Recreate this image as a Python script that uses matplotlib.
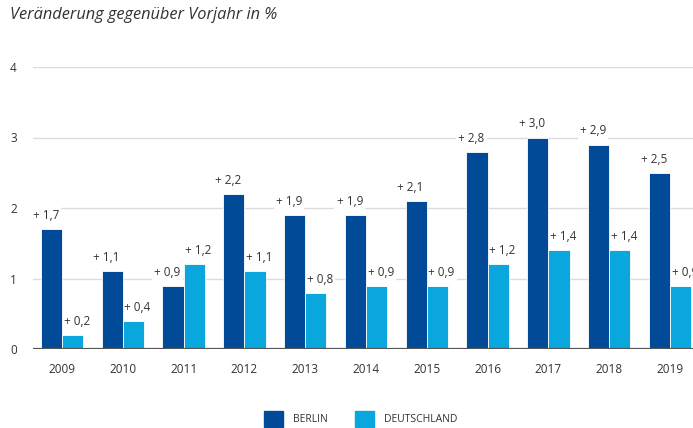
import matplotlib.pyplot as plt
import numpy as np

jahre = ['2009', '2010', '2011', '2012', '2013', '2014', '2015', '2016', '2017', '2018', '2019']
berlin = [1.7, 1.1, 0.9, 2.2, 1.9, 1.9, 2.1, 2.8, 3.0, 2.9, 2.5]
deutschland = [0.2, 0.4, 1.2, 1.1, 0.8, 0.9, 0.9, 1.2, 1.4, 1.4, 0.9]

farbe_berlin = '#004a98'
farbe_de = '#0aa6de'
textfarbe = '#333333'

plt.rcParams['font.family'] = ['Open Sans', 'DejaVu Sans']

fig = plt.figure(figsize=(6.93, 4.28), dpi=100)
ax = fig.add_axes([33 / 693, 1 - 349 / 428, 660 / 693, (349 - 67) / 428])

x = np.arange(len(jahre))
b = 0.35
ax.bar(x - b / 2, berlin, b, color=farbe_berlin, edgecolor='white', linewidth=0.6, zorder=3)
ax.bar(x + b / 2, deutschland, b, color=farbe_de, edgecolor='white', linewidth=0.6, zorder=3)

# Beschriftung ueber den Balken (weisser Hintergrund nur ueber den Gitterlinien)
def wert(v):
    return '+ ' + ('%.1f' % v).replace('.', ',')

for i in range(len(jahre)):
    for dx, v, versatz in ((-b / 2, berlin[i], -4), (b / 2, deutschland[i], 3)):
        ax.annotate(wert(v), (x[i] + dx, v + 0.1), xytext=(versatz, 0), textcoords='offset points',
                    ha='center', va='bottom', fontsize=8.5, color=textfarbe, zorder=2,
                    annotation_clip=False,
                    bbox=dict(facecolor='white', edgecolor='none', pad=1.5))

ax.set_xlim((33 - 62) / 60.8, (693 - 62) / 60.8)
ax.set_ylim(0, 4)
ax.set_yticks([0, 1, 2, 3, 4])
ax.set_xticks(x)
ax.set_xticklabels(jahre)
ax.grid(axis='y', color='#dcdcdc', linewidth=1, zorder=0)
for s in ax.spines.values():
    s.set_visible(False)
ax.axhline(0, color='#555555', linewidth=1.6, zorder=5)
ax.tick_params(axis='both', length=0, labelsize=8.5, labelcolor=textfarbe)
ax.tick_params(axis='x', pad=10)
ax.tick_params(axis='y', pad=14)
for t in ax.get_yticklabels():
    t.set_horizontalalignment('center')

fig.text(10 / 693, 1 - 15 / 428, 'Veränderung gegenüber Vorjahr in %', fontsize=11.8,
         style='italic', color=textfarbe, va='center')

# Legende
handles = [plt.Rectangle((0, 0), 1, 1, color=farbe_berlin),
           plt.Rectangle((0, 0), 1, 1, color=farbe_de)]
fig.legend(handles, ['BERLIN', 'DEUTSCHLAND'], loc='center', bbox_to_anchor=(0.52, 1 - 419 / 428),
           ncol=2, frameon=False, fontsize=7.5, handlelength=1.9, handleheight=1.9,
           columnspacing=2.6, handletextpad=0.9, labelcolor=textfarbe)

plt.savefig('out.png', dpi=100)
